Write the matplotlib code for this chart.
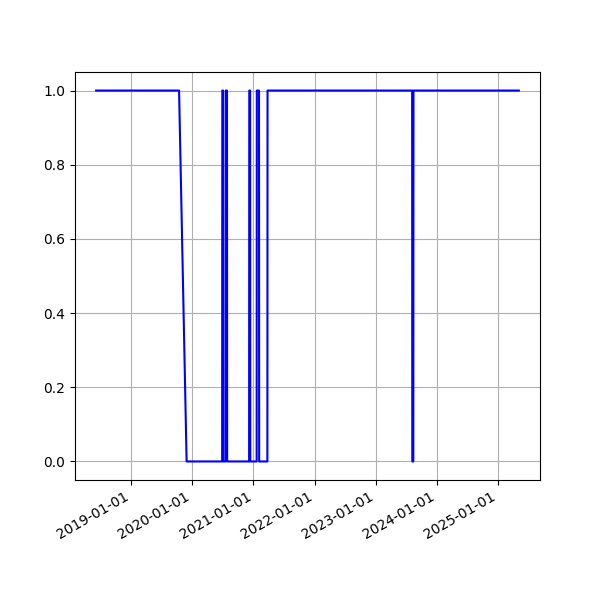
import matplotlib
matplotlib.use("Agg")
import matplotlib.pyplot as plt
import matplotlib.dates as mdates
import numpy as np

# breakpoints of the series (date, value)
dates = ["2018-06-07", "2019-10-15", "2019-11-29",
         "2020-06-28", "2020-06-29", "2020-07-04", "2020-07-05",
         "2020-07-19", "2020-07-20", "2020-07-27", "2020-07-28",
         "2020-12-06", "2020-12-07", "2020-12-12", "2020-12-13",
         "2021-01-20", "2021-01-21", "2021-02-03", "2021-02-04",
         "2021-03-25", "2021-03-26",
         "2023-08-06", "2023-08-07", "2023-08-13", "2023-08-14",
         "2025-05-04"]
values = [1, 1, 0,
          0, 1, 1, 0,
          0, 1, 1, 0,
          0, 1, 1, 0,
          0, 1, 1, 0,
          0, 1,
          1, 0, 0, 1,
          1]

x = np.array(dates, dtype="datetime64[D]")

fig, ax = plt.subplots(figsize=(6, 6), dpi=100)
ax.plot(x, values, color='b')
ax.xaxis.set_major_locator(mdates.YearLocator())
ax.xaxis.set_major_formatter(mdates.DateFormatter('%Y-%m-%d'))
ax.grid(True)
fig.autofmt_xdate()
fig.savefig("out.png")
